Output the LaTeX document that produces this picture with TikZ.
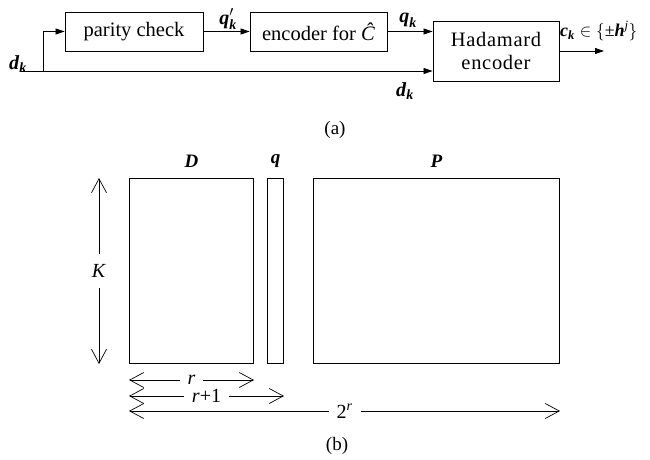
\documentclass[tikz,border=0pt]{standalone}
\usepackage{amsmath}
\usepackage{fontspec}
\setmainfont{Liberation Serif}
\usepackage{tikz}
\usetikzlibrary{positioning,arrows.meta}

% bold italic vector letters
\newcommand{\bv}[1]{\textbf{\textit{#1}}}
% spaced letters for the Hadamard block
\newcommand{\spc}{\kern0.7pt}

\begin{document}
\begin{tikzpicture}[x=1pt, y=-1pt,
    blk/.style={draw, line width=0.9pt, inner sep=0pt, font=\fontsize{20.5}{23}\selectfont},
    sig/.style={line width=0.8pt, -{Triangle[length=9pt, width=6pt]}},
    lbl/.style={font=\fontsize{20}{22}\selectfont, inner sep=1pt},
    mat/.style={draw, line width=1pt, inner sep=0pt, anchor=north west},
    dim/.style={line width=0.7pt, {Straight Barb[length=14pt, width=15pt]}-{Straight Barb[length=14pt, width=15pt]}},
    dimlbl/.style={font=\fontsize{20}{22}\selectfont, fill=white, inner xsep=8pt, inner ysep=0pt},
    ttl/.style={font=\fontsize{19}{21}\selectfont, inner sep=0pt}]
    \useasboundingbox (0,0) rectangle (650,460);

    % (a) encoder chain
    \node[blk, minimum width=138pt, minimum height=39pt] (parity) at (134,31.5) {parity check};
    \node[blk, minimum width=137pt, minimum height=39pt] (enc) at (318.5,31.5) {encoder for \textit{\^C}};
    \node[blk, minimum width=126pt, minimum height=60pt, align=center] (had) at (496,51)
      {H\spc a\spc d\spc a\spc m\spc a\spc r\spc d\\e\spc n\spc c\spc o\spc d\spc e\spc r};
    \coordinate (din) at (20,71);
    \coordinate (split) at (43,71);
    \coordinate (cout) at (604,51);

    \draw[line width=0.8pt] (din) -- (split);
    \draw[sig] (split) |- (parity.west);
    \draw[sig] (split) -- (had.west |- split);
    \draw[sig] (parity.east) -- (enc.west);
    \draw[sig] (enc.east) -- (had.west |- enc.east);
    \draw[sig] (had.east) -- (cout);

    \node[lbl] (dleft) at (18,64) {$\bv{d}_{\bv{k}}$};
    \node[lbl] (dlow) at (405,91) {$\bv{d}_{\bv{k}}$};
    \node[lbl] (qp) at (228,19) {$\bv{q}'_{\bv{k}}$};
    \node[lbl] (q) at (408,20) {$\bv{q}_{\bv{k}}$};
    \node[lbl, font=\fontsize{18}{20}\selectfont, anchor=west] (c) at (559,31) {$\bv{c}_{\bv{k}}\in\{\text{±}\bv{h}^{\textit{j}}\}$};
    \node[lbl, font=\fontsize{19}{21}\selectfont] (capa) at (335,130) {(a)};

    % (b) matrix layout
    \node[mat, minimum width=124pt, minimum height=185pt] (D) at (129,178) {};
    \node[mat, minimum width=16pt, minimum height=185pt] (qm) at (267,178) {};
    \node[mat, minimum width=246pt, minimum height=185pt] (P) at (313,178) {};

    \node[ttl, above=10pt of D] {\bv{D}};
    \node[ttl, above=10pt of qm] {\bv{q}};
    \node[ttl, above=10pt of P] {\bv{P}};

    \coordinate (kx) at (99,0);
    \draw[dim] (kx |- D.north) -- node[dimlbl, inner ysep=10pt, inner xsep=0pt] {\textit{K}} (kx |- D.south);
    \draw[dim] ([yshift=-16pt]D.south west) -- node[dimlbl] {\textit{r}} ([yshift=-16pt]D.south east);
    \draw[dim] ([yshift=-32pt]D.south west) -- node[dimlbl] {\textit{r}+1} ([yshift=-32pt]qm.south east);
    \draw[dim] ([yshift=-47pt]D.south west) -- node[dimlbl] {2\textsuperscript{\textit{r}}} ([yshift=-47pt]P.south east);
    \node[lbl, font=\fontsize{19}{21}\selectfont] (capb) at (337,446) {(b)};
\end{tikzpicture}
\end{document}
